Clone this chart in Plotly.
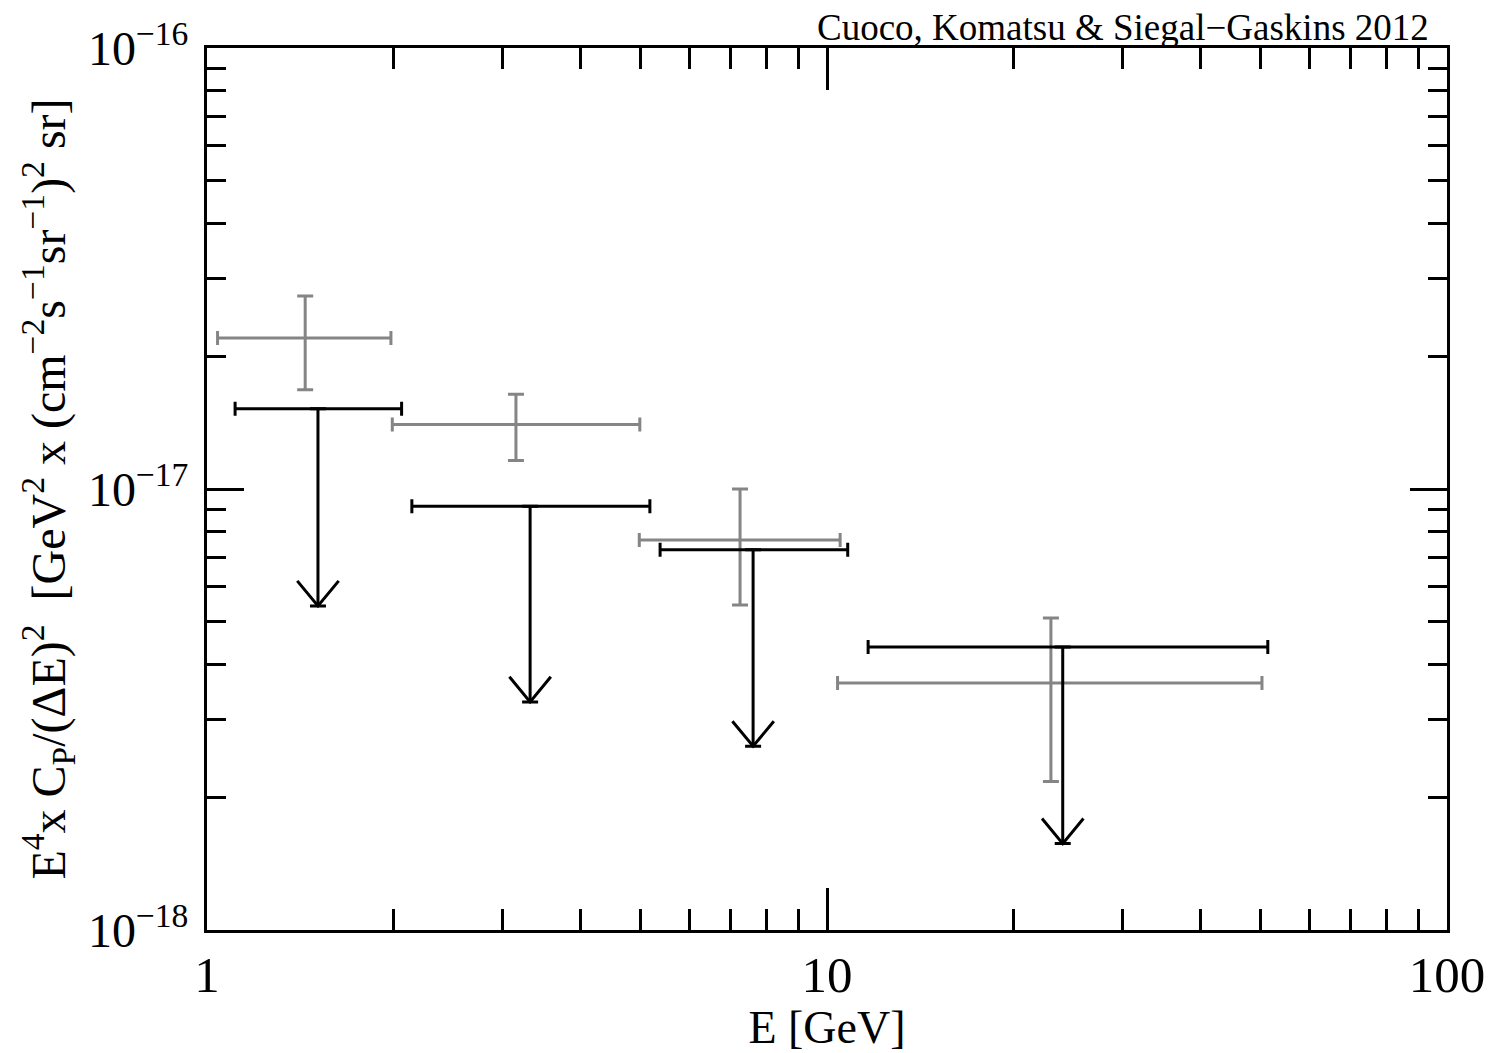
import plotly.graph_objects as go

# Gray: measured points with errors
g_x = [1.44, 3.15, 7.24, 22.97]
g_xlo = [1.04, 1.99, 4.98, 10.4]
g_xhi = [1.98, 4.99, 10.5, 50.3]
g_y = [2.20e-17, 1.40e-17, 7.66e-18, 3.63e-18]
g_ylo = [1.68e-17, 1.16e-17, 5.46e-18, 2.17e-18]
g_yhi = [2.74e-17, 1.64e-17, 1.00e-17, 5.10e-18]

# Black: upper limits
u_x = [1.51, 3.32, 7.60, 24.0]
u_xlo = [1.11, 2.14, 5.38, 11.65]
u_xhi = [2.06, 5.18, 10.8, 51.4]
u_y = [1.52e-17, 9.14e-18, 7.28e-18, 4.38e-18]
u_tip = [5.43e-18, 3.29e-18, 2.61e-18, 1.57e-18]

GRAY = "#858585"
FONT = "Liberation Serif"

fig = go.Figure()

fig.add_trace(go.Scatter(
    x=g_x, y=g_y, mode="markers",
    marker=dict(size=1, color="rgba(0,0,0,0)"),
    error_x=dict(type="data", symmetric=False,
                 array=[h - c for h, c in zip(g_xhi, g_x)],
                 arrayminus=[c - l for l, c in zip(g_xlo, g_x)],
                 color=GRAY, thickness=3, width=7),
    error_y=dict(type="data", symmetric=False,
                 array=[h - c for h, c in zip(g_yhi, g_y)],
                 arrayminus=[c - l for l, c in zip(g_ylo, g_y)],
                 color=GRAY, thickness=3, width=8),
    showlegend=False, hoverinfo="skip"))

fig.add_trace(go.Scatter(
    x=u_x, y=u_y, mode="markers",
    marker=dict(size=1, color="rgba(0,0,0,0)"),
    error_x=dict(type="data", symmetric=False,
                 array=[h - c for h, c in zip(u_xhi, u_x)],
                 arrayminus=[c - l for l, c in zip(u_xlo, u_x)],
                 color="black", thickness=3, width=7),
    error_y=dict(type="data", symmetric=False,
                 array=[0] * len(u_y),
                 arrayminus=[c - t for c, t in zip(u_y, u_tip)],
                 color="black", thickness=3, width=8),
    showlegend=False, hoverinfo="skip"))

# open V arrowheads at the tips
fx, fy = 1.08, 1.14
for xc, t in zip(u_x, u_tip):
    fig.add_trace(go.Scatter(
        x=[xc / fx, xc, xc * fx], y=[t * fy, t, t * fy],
        mode="lines", line=dict(color="black", width=3),
        showlegend=False, hoverinfo="skip"))

xminor = [2, 3, 4, 5, 6, 7, 8, 9, 20, 30, 40, 50, 60, 70, 80, 90]
yminor = [2e-18, 3e-18, 4e-18, 5e-18, 6e-18, 7e-18, 8e-18, 9e-18,
          2e-17, 3e-17, 4e-17, 5e-17, 6e-17, 7e-17, 8e-17, 9e-17]

fig.update_layout(
    width=1488, height=1053,
    margin=dict(l=207, r=41, t=48, b=123),
    paper_bgcolor="white", plot_bgcolor="white",
    font=dict(family=FONT, color="black", size=36),
    xaxis=dict(
        type="log", range=[0, 2], automargin=False,
        tickmode="array", tickvals=[1, 10, 100], ticktext=["1", "10", "100"],
        ticks="inside", ticklen=42, tickwidth=3, tickcolor="black",
        showline=True, linewidth=3, linecolor="black", mirror="ticks",
        showgrid=False, zeroline=False,
        tickfont=dict(family=FONT, size=51),
        ticklabelstandoff=-2,
        minor=dict(tickmode="array", tickvals=xminor, ticks="inside",
                   ticklen=21, tickwidth=3, tickcolor="black", showgrid=False),
        title=dict(text="E [GeV]", font=dict(family=FONT, size=46), standoff=0),
    ),
    yaxis=dict(
        type="log", range=[-18, -16], automargin=False,
        tickmode="array", tickvals=[1e-18, 1e-17, 1e-16],
        ticktext=["10<sup>−18</sup>", "10<sup>−17</sup>", "10<sup>−16</sup>"],
        ticks="inside", ticklen=37, tickwidth=3, tickcolor="black",
        showline=True, linewidth=3, linecolor="black", mirror="ticks",
        showgrid=False, zeroline=False,
        tickfont=dict(family=FONT, size=48),
        ticklabelstandoff=6,
        minor=dict(tickmode="array", tickvals=yminor, ticks="inside",
                   ticklen=19, tickwidth=3, tickcolor="black", showgrid=False),
        title=dict(
            text="E<sup>4</sup>x C<sub>P</sub>/(ΔE)<sup>2</sup>  [GeV<sup>2</sup> x (cm<sup>−2</sup>s<sup>−1</sup>sr<sup>−1</sup>)<sup>2</sup> sr]",
            font=dict(family=FONT, size=48), standoff=8),
    ),
    annotations=[dict(
        text="Cuoco, Komatsu & Siegal−Gaskins 2012",
        xref="paper", yref="paper", x=0.987, y=1.0,
        xanchor="right", yanchor="bottom", yshift=-2, showarrow=False,
        font=dict(family=FONT, size=37, color="black"))],
)

fig.write_html("out.html")
